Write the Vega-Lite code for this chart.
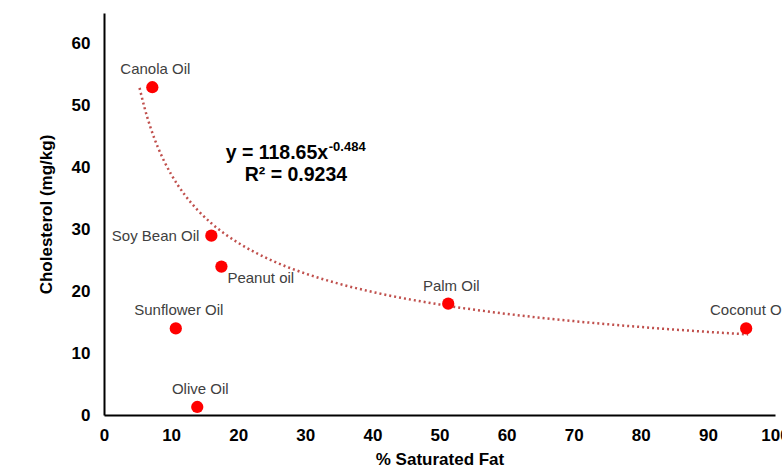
{
  "$schema": "https://vega.github.io/schema/vega-lite/v6.json",
  "width": 671,
  "height": 402,
  "autosize": {"type": "none"},
  "padding": {"left": 104, "top": 13, "right": 7, "bottom": 56},
  "background": "white",
  "config": {
    "view": {"stroke": null},
    "font": "Liberation Sans",
    "axis": {
      "grid": false,
      "ticks": false,
      "labelFlush": false,
      "domainColor": "#000000",
      "domainWidth": 2,
      "labelFont": "Liberation Sans",
      "labelFontWeight": "bold",
      "labelFontSize": 17,
      "labelColor": "#000000",
      "titleFont": "Liberation Sans",
      "titleFontWeight": "bold",
      "titleFontSize": 17,
      "titleColor": "#000000"
    }
  },
  "datasets": {
    "oils": [
      {"name": "Canola Oil", "x": 7.2, "y": 53},
      {"name": "Soy Bean Oil", "x": 16.0, "y": 29},
      {"name": "Peanut oil", "x": 17.5, "y": 24},
      {"name": "Sunflower Oil", "x": 10.7, "y": 14},
      {"name": "Olive Oil", "x": 13.9, "y": 1.3},
      {"name": "Palm Oil", "x": 51.3, "y": 18},
      {"name": "Coconut Oil", "x": 95.7, "y": 14}
    ],
    "trend": [
      {"x": 5.3, "y": 52.9},
      {"x": 6, "y": 49.85},
      {"x": 7, "y": 46.26},
      {"x": 8, "y": 43.37},
      {"x": 9, "y": 40.97},
      {"x": 10, "y": 38.93},
      {"x": 12, "y": 35.64},
      {"x": 14, "y": 33.08},
      {"x": 16, "y": 31.0},
      {"x": 18, "y": 29.29},
      {"x": 20, "y": 27.84},
      {"x": 25, "y": 24.99},
      {"x": 30, "y": 22.88},
      {"x": 35, "y": 21.23},
      {"x": 40, "y": 19.9},
      {"x": 50, "y": 17.87},
      {"x": 60, "y": 16.35},
      {"x": 70, "y": 15.18},
      {"x": 80, "y": 14.23},
      {"x": 90, "y": 13.44},
      {"x": 96, "y": 13.03}
    ],
    "eq": [{"x": 33.4, "y": 42.4, "t": "y = 118.65x"}],
    "sup": [{"x": 33.5, "y": 43.4, "t": "-0.484"}],
    "r2": [{"x": 28.6, "y": 38.8, "t": "R² = 0.9234"}]
  },
  "encoding": {
    "x": {
      "field": "x", "type": "quantitative",
      "scale": {"domain": [0, 100], "nice": false},
      "axis": {"values": [0,10,20,30,40,50,60,70,80,90,100], "labelPadding": 12, "title": "% Saturated Fat", "titlePadding": 8}
    },
    "y": {
      "field": "y", "type": "quantitative",
      "scale": {"domain": [0, 65], "nice": false},
      "axis": {"values": [0,10,20,30,40,50,60], "labelPadding": 14, "title": "Cholesterol (mg/kg)", "titlePadding": 16}
    }
  },
  "layer": [
    {
      "data": {"name": "trend"},
      "mark": {"type": "line", "color": "#C0504D", "strokeWidth": 2.5, "strokeDash": [2, 3], "interpolate": "monotone"}
    },
    {
      "data": {"name": "oils"},
      "mark": {"type": "circle", "color": "#FF0000", "size": 150, "opacity": 1}
    },
    {
      "data": {"name": "oils"},
      "transform": [{"filter": "datum.name !== 'Soy Bean Oil' && datum.name !== 'Peanut oil'"}],
      "mark": {"type": "text", "dy": -18, "dx": 3, "fontSize": 15, "color": "#404040", "align": "center", "baseline": "middle"},
      "encoding": {"text": {"field": "name"}}
    },
    {
      "data": {"name": "oils"},
      "transform": [{"filter": "datum.name === 'Soy Bean Oil'"}],
      "mark": {"type": "text", "dx": -12, "fontSize": 15, "color": "#404040", "align": "right", "baseline": "middle"},
      "encoding": {"text": {"field": "name"}}
    },
    {
      "data": {"name": "oils"},
      "transform": [{"filter": "datum.name === 'Peanut oil'"}],
      "mark": {"type": "text", "dx": 6, "dy": 11, "fontSize": 15, "color": "#404040", "align": "left", "baseline": "middle"},
      "encoding": {"text": {"field": "name"}}
    },
    {
      "data": {"name": "eq"},
      "mark": {"type": "text", "fontSize": 19.5, "fontWeight": "bold", "color": "#000000", "align": "right", "baseline": "middle"},
      "encoding": {"text": {"field": "t"}}
    },
    {
      "data": {"name": "sup"},
      "mark": {"type": "text", "fontSize": 13, "fontWeight": "bold", "color": "#000000", "align": "left", "baseline": "middle"},
      "encoding": {"text": {"field": "t"}}
    },
    {
      "data": {"name": "r2"},
      "mark": {"type": "text", "fontSize": 19.5, "fontWeight": "bold", "color": "#000000", "align": "center", "baseline": "middle"},
      "encoding": {"text": {"field": "t"}}
    }
  ]
}
